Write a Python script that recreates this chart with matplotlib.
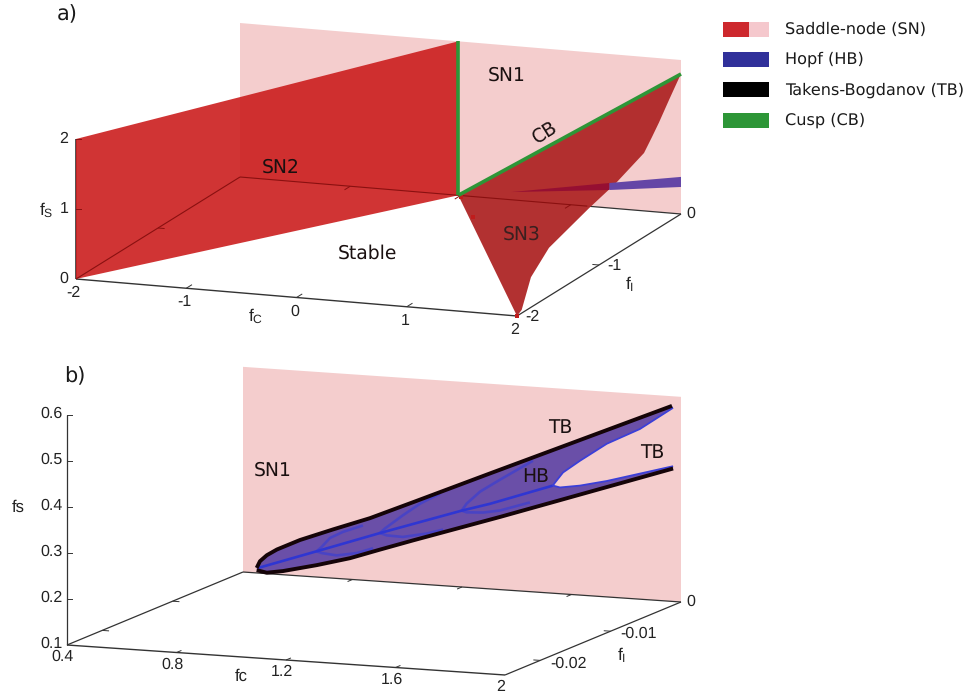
import matplotlib
matplotlib.use('Agg')
import numpy as np
import matplotlib.pyplot as plt
from matplotlib.patches import Polygon, Rectangle

plt.rcParams['font.family'] = ['DejaVu Sans']
plt.rcParams['mathtext.fontset'] = 'custom'
plt.rcParams['mathtext.rm'] = 'Liberation Sans'
plt.rcParams['text.hinting'] = 'none'

# panel a: values
a_fc_ticks = [-2, -1, 0, 1, 2]
a_fi_ticks = [-2, -1, 0]
a_fs_ticks = [0, 1, 2]
a_wall_top = 2.2
cusp_fc = -0.02

# SN3 curved edge, in the plane fc=2
sn3_fi = [-2.0, -1.943, -1.83, -1.61, -1.366, -1.122, -0.793, -0.451, -0.354, -0.27, -0.146, -0.024, 0.0]
sn3_fs = [0.0, 0.045, 0.43, 0.69, 0.795, 0.90, 1.02, 1.20, 1.357, 1.50, 1.736, 1.96, 2.0]

# HB sliver seen in panel a, in the plane fI=0
hb_a_fc = [0.46, 1.35, 2.0]
hb_a_top = [0.11, 0.357, 0.53]
hb_a_low = [0.11, 0.257, 0.386]

# stray specks on the SN3 surface
speck_fc = [0.376, 2.0, 0.02]
speck_fi = [-0.353, -2.0, -0.02]

# panel b: values
b_fc_ticks = [0.4, 0.8, 1.2, 1.6, 2.0]
b_fi_ticks = [-0.02, -0.01, 0.0]
b_fs_ticks = [0.1, 0.2, 0.3, 0.4, 0.5, 0.6]
b_wall_top = 0.546

tb_up_fc = [0.450, 0.462, 0.487, 0.524, 0.608, 0.729, 0.864, 1.021, 1.302, 1.967]
tb_up_fs = [0.111, 0.126, 0.140, 0.154, 0.178, 0.206, 0.236, 0.277, 0.351, 0.525]
tb_low_fc = [0.450, 0.487, 0.546, 0.670, 0.791, 0.900, 1.021, 1.339, 1.971]
tb_low_fs = [0.106, 0.102, 0.108, 0.126, 0.146, 0.169, 0.194, 0.258, 0.389]

inner_fc = [1.971, 1.850, 1.729, 1.631, 1.569, 1.540, 1.532, 1.558, 1.631, 1.729, 1.850, 1.971]
inner_fs = [0.521, 0.470, 0.433, 0.392, 0.364, 0.341, 0.334, 0.331, 0.338, 0.352, 0.373, 0.394]

spine_fc = [0.455, 0.669, 0.900, 1.199, 1.302, 1.532]
spine_fs = [0.111, 0.156, 0.205, 0.266, 0.285, 0.334]

lobes_fc = [[0.669, 0.687, 0.718, 0.765, 0.838], [0.669, 0.687, 0.742, 0.815, 0.875],
            [0.900, 0.919, 0.984, 1.047, 1.120], [0.900, 0.925, 0.984, 1.071, 1.131],
            [1.199, 1.217, 1.266, 1.339, 1.459], [1.199, 1.217, 1.277, 1.339, 1.448]]
lobes_fs = [[0.156, 0.166, 0.187, 0.202, 0.219], [0.156, 0.153, 0.150, 0.158, 0.171],
            [0.205, 0.216, 0.247, 0.275, 0.300], [0.205, 0.201, 0.200, 0.211, 0.222],
            [0.266, 0.282, 0.310, 0.339, 0.385], [0.266, 0.263, 0.265, 0.272, 0.294]]

legend_labels = ['Saddle-node (SN)', 'Hopf (HB)', 'Takens-Bogdanov (TB)', 'Cusp (CB)']
legend_colours = ['#cd282d', '#30309a', 'black', '#2d9637']

PINK = '#f4cdcd'
RED = '#cb1e1e'
DARKRED = '#8a1010'
LINE = '#333333'
TICKFONT = 'Liberation Sans'
TICKSIZE = 11.5


def proj_a(fc, fi, fs):
    fc, fi, fs = np.asarray(fc, float), np.asarray(fi, float), np.asarray(fs, float)
    x = 76 + (fc + 2) * 110.25 + (fi + 2) * 82
    y = 279 + (fc + 2) * 9.25 - (fi + 2) * 51 - fs * 70
    return x, y


def proj_b(fc, fi, fs):
    fc, fi, fs = np.asarray(fc, float), np.asarray(fi, float), np.asarray(fs, float)
    x = 67 + (fc - 0.4) * 273.75 + (fi + 0.025) * 7040
    y = 645 + (fc - 0.4) * 18.75 - (fi + 0.025) * 2920 - (fs - 0.1) * 460
    return x, y


def line3(ax, proj, fc, fi, fs, **kw):
    n = max(np.size(fc), np.size(fi), np.size(fs))
    x, y = proj(np.broadcast_to(fc, n), np.broadcast_to(fi, n), np.broadcast_to(fs, n))
    ax.plot(x, y, solid_capstyle='butt', solid_joinstyle='round', **kw)


def poly3(ax, proj, fc, fi, fs, **kw):
    n = max(np.size(fc), np.size(fi), np.size(fs))
    x, y = proj(np.broadcast_to(fc, n), np.broadcast_to(fi, n), np.broadcast_to(fs, n))
    ax.add_patch(Polygon(np.column_stack([x, y]), closed=True, linewidth=0, **kw))


def tick_text(ax, x, y, s):
    ax.text(x, y, s, ha='center', va='center', family=TICKFONT, fontsize=TICKSIZE, color='#222222')


fig = plt.figure(figsize=(9.66, 6.94), dpi=100)
ax = fig.add_axes([0, 0, 1, 1])
ax.set_xlim(0, 966)
ax.set_ylim(694, 0)
ax.axis('off')

# ---- panel a ----
poly3(ax, proj_a, [-2, 2, 2, -2], 0, [0, 0, a_wall_top, a_wall_top], facecolor=PINK, zorder=1)

line3(ax, proj_a, [-2, 2], -2, 0, color=LINE, lw=1.0, zorder=2)
line3(ax, proj_a, 2, [-2, 0], 0, color=LINE, lw=0.9, zorder=2)
line3(ax, proj_a, [1.15, 2], 0, 0, color=LINE, lw=0.9, zorder=2)
line3(ax, proj_a, -2, -2, [0, 2], color=LINE, lw=1.2, zorder=2)

poly3(ax, proj_a, [-2, -2, cusp_fc, cusp_fc], [-2, -2, 0, 0], [0, 2, a_wall_top, 0],
      facecolor=RED, alpha=0.9, zorder=3)

# lines seen through the red surfaces
line3(ax, proj_a, -2, [-2, 0], 0, color=DARKRED, lw=0.8, zorder=4)
line3(ax, proj_a, [-2, 1.15], 0, 0, color=DARKRED, lw=0.8, zorder=6)

# SN3 surface
poly3(ax, proj_a, [cusp_fc] + [2] * len(sn3_fi), [0] + sn3_fi, [0] + sn3_fs,
      facecolor='#b02a2a', alpha=0.97, zorder=5)

# HB sliver, hidden part then visible part
poly3(ax, proj_a, hb_a_fc[:2] + hb_a_fc[:2][::-1], 0, hb_a_top[:2] + hb_a_low[:2][::-1],
      facecolor='#960f32', zorder=6)
poly3(ax, proj_a, hb_a_fc[1:] + hb_a_fc[1:][::-1], 0, hb_a_top[1:] + hb_a_low[1:][::-1],
      facecolor='#6446a6', zorder=6)

sx, sy = proj_a(speck_fc, speck_fi, 0)
ax.plot(sx, sy, ls='none', marker='s', ms=3, mew=0, color='#c01c1c', zorder=6)

# cusp lines
line3(ax, proj_a, cusp_fc, 0, [0, a_wall_top], color='#2d9637', lw=2.6, zorder=7)
line3(ax, proj_a, [cusp_fc, 2], 0, [0, 2], color='#2d9637', lw=2.6, zorder=7)

# ticks
for v in a_fc_ticks[1:-1]:
    line3(ax, proj_a, v, [-2, -1.93], 0, color=LINE, lw=0.7, zorder=2)
    line3(ax, proj_a, v, [0, -0.07], 0, color=DARKRED, lw=0.7, zorder=6)
for v in a_fi_ticks[1:-1]:
    line3(ax, proj_a, [2, 1.94], v, 0, color=LINE, lw=0.7, zorder=2)
    line3(ax, proj_a, [-2, -1.94], v, 0, color=DARKRED, lw=0.7, zorder=4)
for v in a_fs_ticks[1:]:
    x, y = proj_a(-2, -2, v)
    ax.plot([x, x + 5], [y, y], color=DARKRED, lw=0.7, zorder=4)

# tick labels
for v in a_fc_ticks:
    x, y = proj_a(v, -2, 0)
    tick_text(ax, x - 2 - (v == -2) * 1, y + 14, str(v))
for v in a_fi_ticks[:-1]:
    x, y = proj_a(2, v, 0)
    tick_text(ax, x + 15, y + 1, str(v))
x, y = proj_a(2, 0, 0)
tick_text(ax, x + 10, y, '0')
for v in a_fs_ticks:
    x, y = proj_a(-2, -2, v)
    tick_text(ax, x - 12, y, str(v))

ax.text(256, 316, r'$\mathrm{f_C}$', ha='center', va='center', fontsize=12.5, color='#222222')
ax.text(46, 210, r'$\mathrm{f_S}$', ha='center', va='center', fontsize=12.5, color='#222222')
ax.text(630, 284, r'$\mathrm{f_I}$', ha='center', va='center', fontsize=12.5, color='#222222')

ax.text(507, 75, 'SN1', ha='center', va='center', fontsize=13.5, color='#1a1010', zorder=8)
ax.text(281, 167, 'SN2', ha='center', va='center', fontsize=13.5, color='#1a1010', zorder=8)
ax.text(522, 234, 'SN3', ha='center', va='center', fontsize=13.5, color='#3a2020', zorder=8)
ax.text(367, 253, 'Stable', ha='center', va='center', fontsize=13.5, color='#1a1010', zorder=8)
ax.text(545, 132, 'CB', ha='center', va='center', fontsize=13.5, rotation=32, color='#1a1010', zorder=8)
ax.text(67, 14, 'a)', ha='center', va='center', fontsize=15, color='#1a1a1a')
ax.text(75, 376, 'b)', ha='center', va='center', fontsize=15, color='#1a1a1a')

# ---- panel b ----
poly3(ax, proj_b, [0.4, 2, 2, 0.4], 0, [0.1, 0.1, b_wall_top, b_wall_top], facecolor=PINK, zorder=1)

line3(ax, proj_b, [0.4, 2], -0.025, 0.1, color=LINE, lw=1.0, zorder=2)
line3(ax, proj_b, 2, [-0.025, 0], 0.1, color=LINE, lw=0.9, zorder=2)
line3(ax, proj_b, [0.4, 2], 0, 0.1, color=LINE, lw=0.9, zorder=2)
line3(ax, proj_b, 0.4, [-0.025, 0], 0.1, color=LINE, lw=0.9, zorder=2)
line3(ax, proj_b, 0.4, -0.025, [0.1, 0.6], color=LINE, lw=0.9, zorder=2)

# HB surface between the TB curves
poly3(ax, proj_b, tb_up_fc + inner_fc + tb_low_fc[::-1], 0, tb_up_fs + inner_fs + tb_low_fs[::-1],
      facecolor='#6a4fa8', zorder=3)

for lx, ly in zip(lobes_fc, lobes_fs):
    line3(ax, proj_b, lx, 0, ly, color='#3b3fd0', lw=1.9, alpha=0.7, zorder=4)
line3(ax, proj_b, spine_fc, 0, spine_fs, color='#2f36d2', lw=1.9, zorder=5)
line3(ax, proj_b, inner_fc, 0, inner_fs, color='#3b3fd8', lw=1.3, zorder=5)

line3(ax, proj_b, tb_up_fc, 0, tb_up_fs, color='#150408', lw=2.8, zorder=6)
line3(ax, proj_b, tb_low_fc, 0, tb_low_fs, color='#150408', lw=2.8, zorder=6)

for v in b_fc_ticks[1:-1]:
    line3(ax, proj_b, v, [-0.025, -0.0243], 0.1, color=LINE, lw=0.7, zorder=2)
    line3(ax, proj_b, v, [0, -0.0007], 0.1, color=LINE, lw=0.7, zorder=2)
for v in b_fi_ticks[:-1]:
    line3(ax, proj_b, [2, 1.975], v, 0.1, color=LINE, lw=0.7, zorder=2)
    line3(ax, proj_b, [0.4, 0.425], v, 0.1, color=LINE, lw=0.7, zorder=2)
for v in b_fs_ticks[1:]:
    x, y = proj_b(0.4, -0.025, v)
    ax.plot([x, x + 5], [y, y], color=LINE, lw=0.7, zorder=2)

for v in b_fc_ticks:
    x, y = proj_b(v, -0.025, 0.1)
    tick_text(ax, x - 4, y + 12, '2' if v == 2.0 else f'{v:.1f}')
for v in b_fi_ticks[:-1]:
    x, y = proj_b(2, v, 0.1)
    tick_text(ax, x + 28, y + 3, f'{v:.2f}')
x, y = proj_b(2, 0, 0.1)
tick_text(ax, x + 10, y, '0')
for v in b_fs_ticks:
    x, y = proj_b(0.4, -0.025, v)
    tick_text(ax, x - 15, y - 1, f'{v:.1f}')

ax.text(241, 676, 'fc', ha='center', va='center', family=TICKFONT, fontsize=12, color='#222222')
ax.text(18, 507, 'fs', ha='center', va='center', family=TICKFONT, fontsize=12, color='#222222')
ax.text(622, 655, r'$\mathrm{f_I}$', ha='center', va='center', fontsize=12.5, color='#222222')

ax.text(273, 470, 'SN1', ha='center', va='center', fontsize=13.5, color='#1a1010', zorder=8)
ax.text(560, 428, 'TB', ha='center', va='center', fontsize=13.5, color='#1a1010', zorder=8)
ax.text(536, 477, 'HB', ha='center', va='center', fontsize=13.5, color='#1a1010', zorder=8)
ax.text(652, 453, 'TB', ha='center', va='center', fontsize=13.5, color='#1a1010', zorder=8)

# ---- legend ----
for i, (lab, col) in enumerate(zip(legend_labels, legend_colours)):
    yc = 29.5 + i * 30.2
    ax.add_patch(Rectangle((723, yc - 7.5), 46, 15, facecolor=col, linewidth=0))
    if i == 0:
        ax.add_patch(Rectangle((749, yc - 7.5), 20, 15, facecolor='#f5c8cd', linewidth=0))
    ax.text(785, yc, lab, ha='left', va='center', fontsize=11.6, color='#1a1a1a')

fig.savefig('out.png', dpi=100)
